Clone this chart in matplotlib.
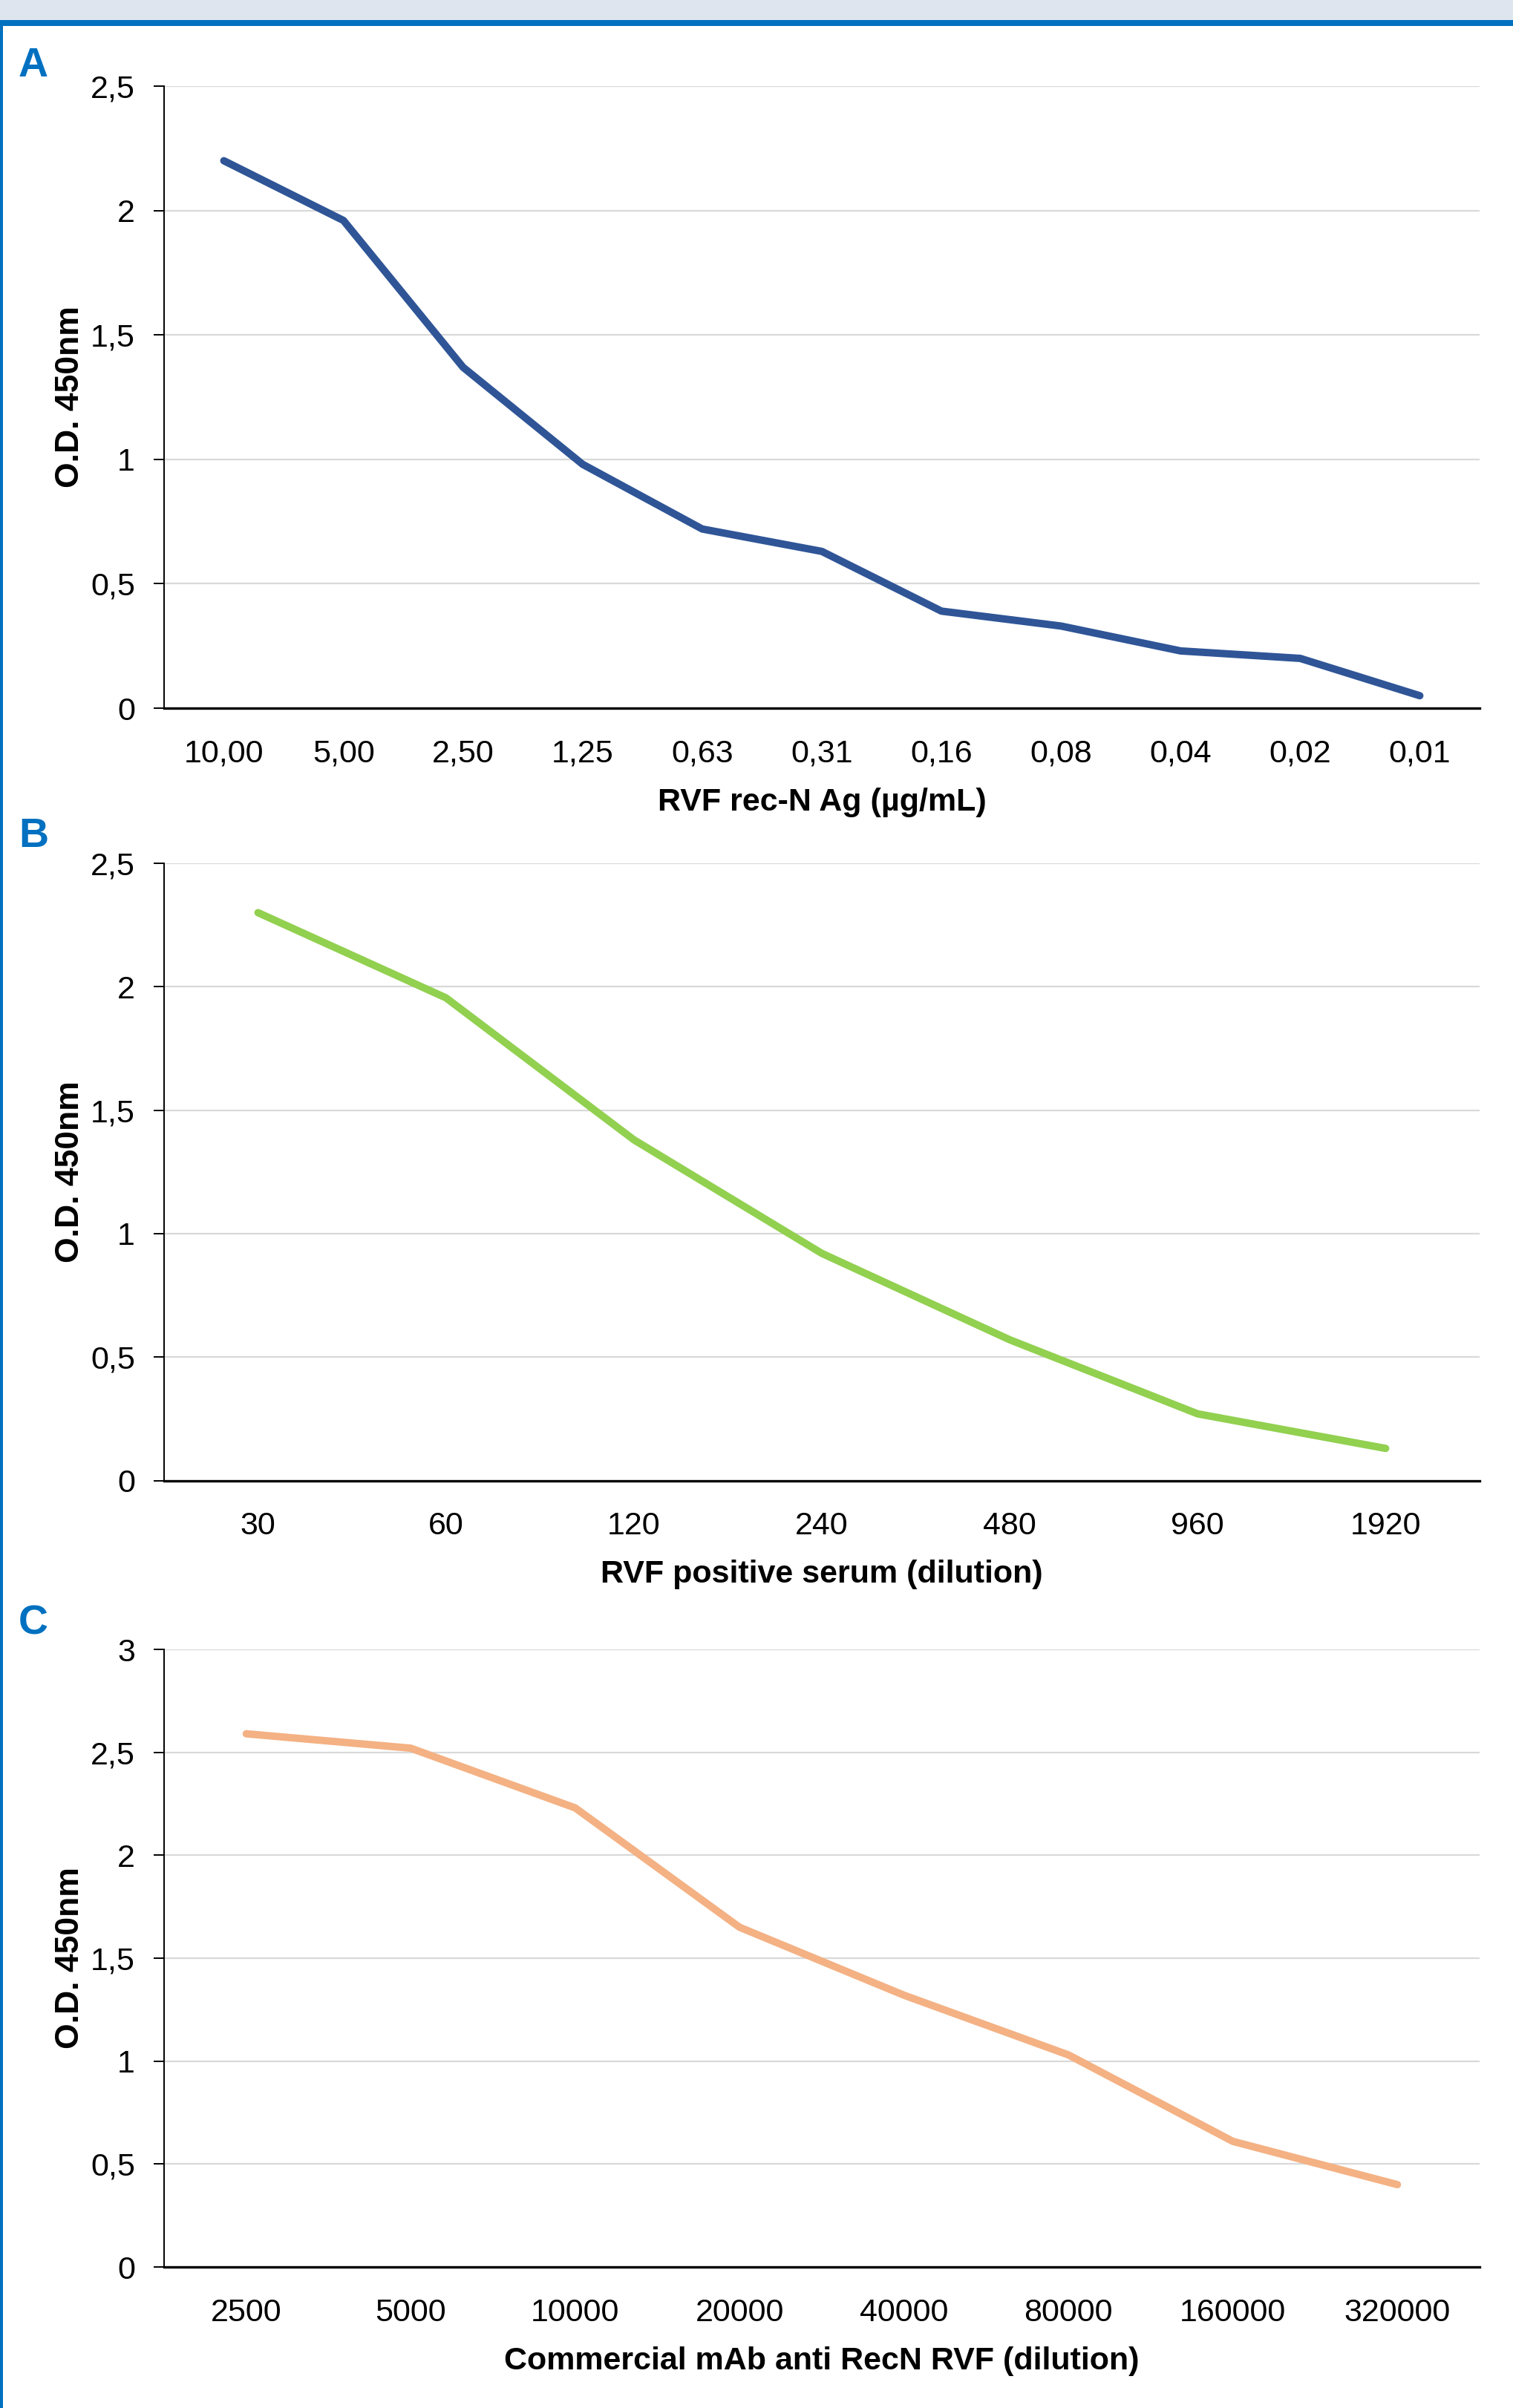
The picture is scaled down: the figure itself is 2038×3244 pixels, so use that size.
import matplotlib
matplotlib.use('Agg')
import matplotlib.pyplot as plt
from matplotlib.patches import Rectangle

plt.rcParams['font.family'] = ['Liberation Sans Narrow', 'Liberation Sans', 'DejaVu Sans']

# panel A
conc_labels = ['10,00', '5,00', '2,50', '1,25', '0,63', '0,31', '0,16', '0,08', '0,04', '0,02', '0,01']
od_antigen = [2.20, 1.96, 1.37, 0.98, 0.72, 0.63, 0.39, 0.33, 0.23, 0.20, 0.05]

# panel B
serum_labels = ['30', '60', '120', '240', '480', '960', '1920']
od_serum = [2.30, 1.955, 1.38, 0.92, 0.57, 0.27, 0.13]

# panel C
mab_labels = ['2500', '5000', '10000', '20000', '40000', '80000', '160000', '320000']
od_mab = [2.59, 2.52, 2.23, 1.65, 1.32, 1.03, 0.61, 0.40]

W, H = 2038, 3244
fig = plt.figure(figsize=(W / 100, H / 100), dpi=100)

# frame decoration: grey band, blue rule, left blue border
fig.patches.append(Rectangle((0, 1 - 27 / H), 1, 27 / H, transform=fig.transFigure,
                             facecolor='#DEE5EE', edgecolor='none'))
fig.patches.append(Rectangle((0, 1 - 35 / H), 1, 8 / H, transform=fig.transFigure,
                             facecolor='#0070C0', edgecolor='none'))
fig.patches.append(Rectangle((0, 0), 3.5 / W, 1 - 35 / H, transform=fig.transFigure,
                             facecolor='#0070C0', edgecolor='none'))


def px_box(top, bottom, left=221, right=1993):
    return [left / W, 1 - bottom / H, (right - left) / W, (bottom - top) / H]


def fmt(v):
    s = ('%.1f' % v).replace('.', ',')
    return s[:-2] if s.endswith(',0') else s


def panel(box, labels, values, color, ymax, xlabel):
    ax = fig.add_axes(box)
    x = list(range(len(labels)))
    ax.plot(x, values, color=color, lw=7.2, solid_capstyle='round', solid_joinstyle='round', zorder=3)
    ax.set_xlim(-0.5, len(labels) - 0.5)
    ax.set_ylim(0, ymax)
    ticks = [i * 0.5 for i in range(int(ymax / 0.5) + 1)]
    ax.set_yticks(ticks)
    ax.set_yticklabels([fmt(t) for t in ticks])
    ax.set_xticks(x)
    ax.set_xticklabels(labels)
    ax.grid(axis='y', color='#D9D9D9', lw=1.6)
    ax.set_axisbelow(True)
    for s in ['top', 'right']:
        ax.spines[s].set_visible(False)
    ax.spines['left'].set_linewidth(1.4)
    ax.spines['bottom'].set_linewidth(2.4)
    ax.tick_params(axis='y', length=10, width=1.4, pad=18, labelsize=31)
    ax.tick_params(axis='x', length=0, pad=30, labelsize=31)
    ax.set_xlabel(xlabel, fontsize=31, fontweight='bold', labelpad=18)
    ax.set_ylabel('O.D. 450nm', fontsize=32, fontweight='bold')
    ax.yaxis.set_label_coords(-0.060, 0.5)
    return ax


panel(px_box(116, 954), conc_labels, od_antigen, '#2F5597', 2.5, 'RVF rec-N Ag (µg/mL)')
panel(px_box(1163, 1994.5), serum_labels, od_serum, '#92D050', 2.5, 'RVF positive serum (dilution)')
panel(px_box(2222, 3054), mab_labels, od_mab, '#F4B183', 3.0, 'Commercial mAb anti RecN RVF (dilution)')

for letter, base in [('A', 103), ('B', 1141), ('C', 2201)]:
    fig.text(25 / W, 1 - base / H, letter, color='#0070C0', fontsize=40, fontweight='bold',
             ha='left', va='baseline', family=['Liberation Sans', 'DejaVu Sans'])

fig.savefig('out.png', dpi=100)
